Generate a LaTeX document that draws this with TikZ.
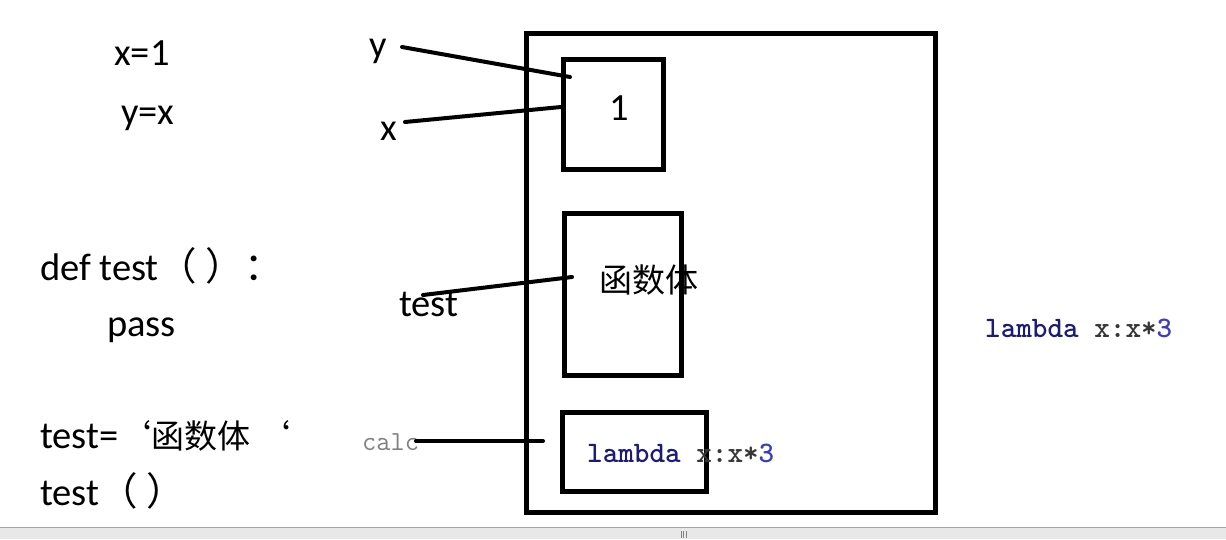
\documentclass[tikz,border=0pt]{standalone}
\usepackage{fontspec}
\setmainfont{Carlito}
\newfontfamily\cjk{Noto Sans CJK SC}
\usetikzlibrary{positioning}
\definecolor{kwblue}{RGB}{28,28,120}
\definecolor{numblue}{RGB}{60,60,190}
\definecolor{codegray}{RGB}{55,55,55}
\definecolor{barcol}{RGB}{232,232,232}
\tikzset{mbox/.style={draw,line width=5pt,inner sep=0pt},
	 txt/.style={inner sep=0pt,anchor=base west,font=\fontsize{38.5}{46}\selectfont},
	 code/.style={inner sep=0pt,anchor=base west,font=\ttfamily\bfseries\fontsize{29.7}{34}\selectfont},
	 ptr/.style={line width=4pt,line cap=round},
	 x=1pt,y=-1pt
	 }
\newcommand{\lamexpr}{\textcolor{kwblue}{lambda}~\textcolor{codegray}{x:x*}\textcolor{numblue}{3}}

\begin{document}
\begin{tikzpicture} % names and the objects they point to
	\useasboundingbox (0,0) rectangle (1226,539);
	\fill[white] (0,0) rectangle (1226,539);
	% memory
	\node[mbox,minimum width=408.5pt,minimum height=478.5pt] (mem) at (730.75,272.75) {};
	\node[mbox,minimum width=100pt,minimum height=110pt] (one) at (613.5,114.5) {};
	\node[mbox,minimum width=117pt,minimum height=162pt] (body) at (623,294.5) {};
	\node[mbox,minimum width=144pt,minimum height=79pt] (lam) at (634,451.5) {};
	\node[txt] (onetxt) at (609,120) {1};
	\node[txt,font=\cjk\fontsize{33}{40}\selectfont,anchor=center] (bodytxt) at (649,280) {函数体};
	\node[code] (lamtxt) at (587,462) {\lamexpr};
	\node[code] (lamright) at (985,337) {\lamexpr};
	% code
	\node[txt] (l1) at (114,65) {x=1};
	\node[txt] (l2) at (121,124) {y=x};
	\node[txt] (l3) at (40,280) {def test{\cjk（ ）：}};
	\node[txt] (l4) at (107,336) {pass};
	\node[txt] (l5) at (40,448) {test={\cjk\fontsize{33}{40}\selectfont ‘函数体 ‘}};
	\node[txt] (l6) at (40,505) {test{\cjk（ ）}};
	% names
	\node[txt] (yname) at (369,57) {y};
	\node[txt] (xname) at (380,140) {x};
	\node[txt] (tname) at (399,316) {test};
	\node[code,font=\ttfamily\fontsize{27.6}{32}\selectfont,text=gray] (cname) at (362,450) {calc};
	\coordinate (y0) at (402,47);
	\coordinate (x0) at (405,122);
	\coordinate (t0) at (423,295);
	\coordinate (c0) at (416,441);
	\coordinate (yend) at (570,77);
	\coordinate (xend) at (561,107);
	\coordinate (tend) at (572,277);
	\coordinate (cend) at (543,441);
	\draw[ptr] (y0) -- (yend);
	\draw[ptr] (x0) -- (xend);
	\draw[ptr] (t0) -- (tend);
	\draw[ptr] (c0) -- (cend);
	% bar
	\fill[barcol] (0,527) rectangle (1226,539);
	\draw[gray!70,line width=1pt] (0,527) -- (1226,527);
	\foreach \i in {681,683.5,686}
		\draw[gray,line width=0.8pt] (\i,531) -- (\i,538);
\end{tikzpicture}
\end{document}
